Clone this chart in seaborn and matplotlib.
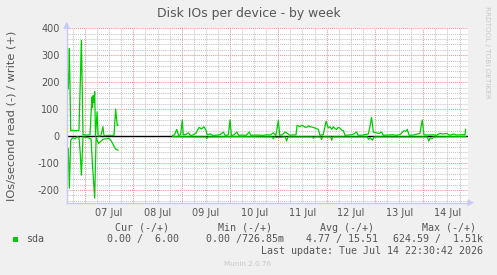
import numpy as np
import pandas as pd
import matplotlib
matplotlib.use("Agg")
import matplotlib.pyplot as plt
import seaborn as sns

# ---------------- data (hours since 07 Jul 00:00) ----------------
write1_t = [-8.8, -8.6, -8.3, -8.0, -7.8, -7.1, -6, -5, -4, -3.0, -1.8, -1.0, -0.5, 1, 2.5,
            3.4, 3.7, 4.0, 4.4, 4.8, 5.2, 6.0, 6.5, 7.9, 8.9, 9.4, 12, 14.4, 15.2, 16.0, 16.4]
write1_v = [240, 200, 175, 260, 325, 20, 22, 20, 21, 22, 355, 4, 5, 4, 5,
            145, 105, 150, 125, 165, 0, 90, 0, 2, 35, 2, 3, 2, 100, 40, 40]
read1_t = [-8.8, -8.5, -8.3, -7.8, -7.1, -6, -5, -4, -3.0, -2.4, -1.8, -1.0, 1, 3, 3.6,
           4.8, 5.5, 6.7, 8.9, 12, 13, 15.2, 16.4]
read1_v = [-90, -45, -50, -193, -15, -5, -10, -3, -5, -60, -144, -3, -5, -10, -95,
           -230, -5, -27, -12, -8, -18, -48, -52]
write2_t = [43.5, 44.5, 45.5, 46.5, 47.5, 48.3, 48.8, 50, 51.3, 52.5, 53.8, 55, 56.6, 57.9,
            59.1, 59.9, 60.7, 62.1, 63.7, 65.5, 67.0, 68.7, 69.7, 71.2, 72.0, 72.7, 74, 75.3,
            76.3, 78, 80, 81.6, 82.3, 85, 88.5, 90.2, 92, 93.5, 94.8, 96.0, 96.7, 98, 99.3,
            100.1, 101.8, 103, 104.8, 105.3, 106.7, 107.5, 108.4, 109.3, 110.1, 111, 111.7,
            113, 114.2, 115.9, 116.7, 118.3, 119.7, 120.8, 121.7, 122.5, 123.3, 124.1, 124.9,
            125.7, 126.6, 127.5, 128.3, 129.1, 131, 133, 134.9, 135.7, 138, 140.7, 141.5,
            142.3, 143.2, 144.8, 146, 147.3, 148.1, 150, 153.1, 154.7, 156.5, 158.4, 159.3,
            160.0, 161.0, 163, 166.3, 167.5, 168.3, 170, 172.9, 174.5, 176.3, 177.9, 179.6,
            181.2, 182.9, 184.5, 186.2, 188.7, 189.0]
write2_v = [3, 5, 25, 2, 5, 60, 5, 6, 12, 2, 5, 10, 32, 27,
            35, 25, 5, 8, 2, 4, 5, 15, 2, 5, 60, 2, 5, 15,
            3, 4, 3, 15, 3, 4, 3, 5, 4, 12, 3, 58, 3, 5, 15,
            12, 3, 4, 5, 40, 35, 40, 38, 33, 33, 38, 35,
            33, 30, 25, 3, 5, 55, 30, 35, 25, 35, 28, 25,
            32, 30, 22, 20, 3, 4, 6, 15, 3, 4, 8, 35,
            70, 15, 12, 10, 15, 3, 4, 5, 3, 6, 20, 18,
            25, 3, 4, 10, 60, 5, 4, 5, 3, 10, 8, 10,
            3, 8, 4, 5, 5, 25]
read2_t = [43.5, 55, 60.0, 60.4, 61, 75, 93, 93.5, 94, 95.2, 99.5, 100.1, 100.8, 113, 113.4,
           114, 117, 117.5, 118, 122, 122.5, 123, 140.2, 140.7, 141.5, 142.8, 143.5, 170,
           170.7, 171.5, 172.4, 173, 189]
read2_v = [-2, -3, -3, -10, -3, -2, -3, -10, -3, -5, -3, -18, -3, -3, -8,
           -3, -3, -12, -3, -3, -15, -3, -3, -12, -5, -15, -3, -3,
           -18, -5, -10, -3, -2]

day_labels = ["07 Jul", "08 Jul", "09 Jul", "10 Jul", "11 Jul", "12 Jul", "13 Jul", "14 Jul"]
y_ticks = [-200, -100, 0, 100, 200, 300, 400]

# legend / stats text
legend_name = "sda"
stat_headers = ["Cur (-/+)", "Min (-/+)", "Avg (-/+)", "Max (-/+)"]
stat_values = ["0.00 /  6.00", "0.00 /726.85m", "4.77 / 15.51", "624.59 /  1.51k"]
last_update = "Last update: Tue Jul 14 22:30:42 2026"

frames = []
for name, t, v in [("w1", write1_t, write1_v), ("r1", read1_t, read1_v),
                   ("w2", write2_t, write2_v), ("r2", read2_t, read2_v)]:
    frames.append(pd.DataFrame({"hours": t, "value": v, "seg": name}))
df = pd.concat(frames, ignore_index=True)

# ---------------- figure ----------------
W, H = 497, 275
fig = plt.figure(figsize=(W / 100, H / 100), dpi=100, facecolor="#F0F0F0")
x0, x1, ytop, ybot = 66.7, 468.0, 28.3, 202.7
ax = fig.add_axes([x0 / W, 1 - ybot / H, (x1 - x0) / W, (ybot - ytop) / H])
ax.set_facecolor("white")

xmin, xmax = -9.1, 190.2
ymin, ymax = -247, 400
ax.set_xlim(xmin, xmax)
ax.set_ylim(ymin, ymax)

dot = (0, (1, 1))
# minor grid
for yy in np.arange(-240, 401, 20):
    if yy % 100 != 0:
        ax.axhline(yy, color="#C4C4C4", lw=0.75, ls=dot, zorder=1)
for xx in np.arange(-6, 190, 6):
    if xx % 24 != 0:
        ax.axvline(xx, color="#C4C4C4", lw=0.75, ls=dot, zorder=1)
# major grid
for yy in y_ticks:
    ax.axhline(yy, color="#EC9494", lw=0.75, ls=dot, zorder=1.5)
for xx in np.arange(0, 190, 24):
    ax.axvline(xx, color="#EC9494", lw=0.75, ls=dot, zorder=1.5)

ax.axhline(0, color="black", lw=1.0, zorder=2)

sns.lineplot(data=df, x="hours", y="value", units="seg", estimator=None,
             color="#00CC00", lw=0.9, ax=ax, zorder=3, sort=False)

ax.set_xlabel("")
ax.set_ylabel("IOs/second read (-) / write (+)", color="#555555", fontsize=8.2)
ax.yaxis.set_label_coords((16.5 - x0) / (x1 - x0), 0.5)

ax.set_yticks(y_ticks)
ax.set_yticklabels([str(v) for v in y_ticks])
ax.set_xticks([12 + 24 * i for i in range(len(day_labels))])
ax.set_xticklabels(day_labels)
ax.tick_params(axis="both", length=0, labelsize=7, colors="#555555", pad=4)
ax.tick_params(axis="y", pad=5)

for s in ["top", "right"]:
    ax.spines[s].set_visible(False)
for s in ["left", "bottom"]:
    ax.spines[s].set_color("#C8C8F8")
    ax.spines[s].set_linewidth(1.0)
    ax.spines[s].set_zorder(4)

# axis arrows
fig.patches.append(matplotlib.patches.Polygon(
    [[(x1 + 6) / W, 1 - ybot / H], [(x1 - 0.5) / W, 1 - (ybot - 3.5) / H],
     [(x1 - 0.5) / W, 1 - (ybot + 3.5) / H]], closed=True, transform=fig.transFigure,
    facecolor="#C8C8F8", edgecolor="none"))
fig.patches.append(matplotlib.patches.Polygon(
    [[x0 / W, 1 - (ytop - 6.5) / H], [(x0 - 3.5) / W, 1 - (ytop + 0.5) / H],
     [(x0 + 3.5) / W, 1 - (ytop + 0.5) / H]], closed=True, transform=fig.transFigure,
    facecolor="#C8C8F8", edgecolor="none"))

# title
fig.text(248.7 / W, 1 - 13 / H, "Disk IOs per device - by week", ha="center", va="center",
         fontsize=8.9, color="#555555")
# right vertical text
fig.text(487 / W, 1 - 52 / H, "RRDTOOL / TOBI OETIKER", rotation=270, ha="center", va="center",
         fontsize=5.2, color="#C8C8C8")

mono = "DejaVu Sans Mono"
fs = 7.2
# legend
fig.patches.append(matplotlib.patches.Rectangle(
    (12.5 / W, 1 - 242 / H), 5.5 / W, 5.5 / H, transform=fig.transFigure,
    facecolor="#00CC00", edgecolor="none"))
fig.text(26.5 / W, 1 - 239.3 / H, legend_name, family=mono, fontsize=fs, color="#555555",
         ha="left", va="center")
hdr_x = [169.3, 271.7, 374.0, 476.0]
val_x = [179.0, 284.3, 377.7, 483.0]
for hx, h in zip(hdr_x, stat_headers):
    fig.text(hx / W, 1 - 227.7 / H, h, family=mono, fontsize=fs, color="#555555",
             ha="right", va="center")
for vx, v in zip(val_x, stat_values):
    fig.text(vx / W, 1 - 239.3 / H, v, family=mono, fontsize=fs, color="#555555",
             ha="right", va="center")
fig.text(482.7 / W, 1 - 251 / H, last_update, family=mono, fontsize=fs, color="#555555",
         ha="right", va="center")
fig.text(248 / W, 1 - 264 / H, "Munin 2.0.76", fontsize=5.2, color="#C8C8C8",
         ha="center", va="center")

fig.savefig("out.png", dpi=100, facecolor=fig.get_facecolor())
